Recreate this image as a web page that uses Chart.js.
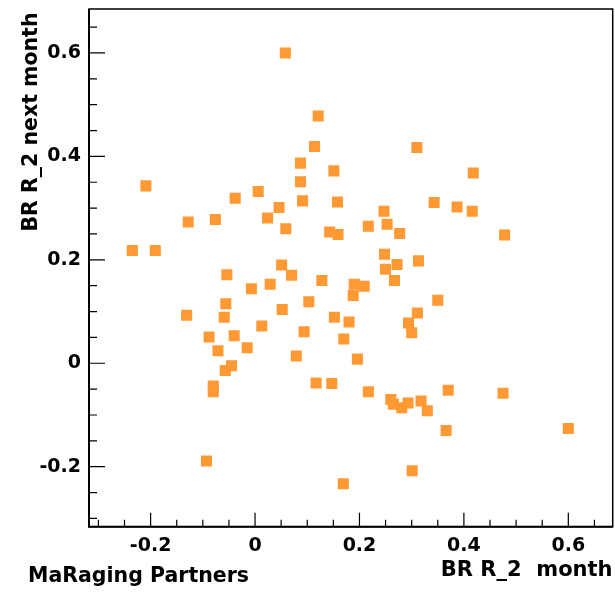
<!DOCTYPE html>
<html>
<head>
<meta charset="utf-8">
<script src="https://cdn.jsdelivr.net/npm/chart.js@4/dist/chart.umd.min.js"></script>
<style>
  html, body { margin: 0; padding: 0; background: #ffffff; }
  #wrap { width: 615px; height: 594px; }
</style>
</head>
<body>
<div id="wrap"><canvas id="c" width="615" height="594"></canvas></div>
<script>
// ---- data ----
const xValues = [
  0.058, 0.121, 0.114, 0.087, 0.151, -0.209, 0.087, -0.038, 0.006, 0.091,
  0.158, 0.046, -0.128, -0.076, 0.024, 0.059, 0.143, 0.159, -0.235, -0.191,
  0.051, 0.310, 0.418, 0.343, 0.387, 0.416, 0.247, 0.217, 0.253, 0.277,
  0.478, 0.248, 0.272, 0.313, 0.250, 0.267, 0.190, 0.209, 0.188, 0.350,
  0.311, 0.294, 0.180, 0.300, 0.170, 0.196, 0.217, 0.370, 0.475, 0.260,
  0.265, 0.281, 0.293, 0.318, 0.330, 0.366, 0.600, 0.301, 0.169, -0.054,
  0.070, -0.007, 0.029, 0.128, -0.056, 0.103, -0.131, -0.059, 0.052, 0.152,
  -0.088, -0.040, 0.013, 0.094, -0.071, -0.015, 0.079, -0.057, -0.045, -0.080,
  -0.080, 0.117, 0.147, -0.093
];
const yValues = [
  0.600, 0.478, 0.419, 0.387, 0.372, 0.343, 0.351, 0.319, 0.332, 0.314,
  0.312, 0.301, 0.273, 0.278, 0.281, 0.260, 0.254, 0.249, 0.218, 0.218,
  0.190, 0.417, 0.368, 0.311, 0.302, 0.294, 0.294, 0.265, 0.269, 0.251,
  0.248, 0.211, 0.191, 0.198, 0.182, 0.160, 0.153, 0.149, 0.131, 0.122,
  0.097, 0.078, 0.080, 0.059, 0.047, 0.008, -0.055, -0.052, -0.058, -0.070,
  -0.079, -0.086, -0.077, -0.073, -0.092, -0.130, -0.126, -0.208, -0.233, 0.171,
  0.170, 0.144, 0.153, 0.160, 0.115, 0.119, 0.093, 0.089, 0.104, 0.089,
  0.051, 0.053, 0.072, 0.061, 0.024, 0.030, 0.014, -0.014, -0.005, -0.044,
  -0.055, -0.038, -0.039, -0.189
];
const xMajorTicks = [-0.2, 0, 0.2, 0.4, 0.6];
const xTickLabels = ['-0.2', '0', '0.2', '0.4', '0.6'];
const yMajorTicks = [-0.2, 0, 0.2, 0.4, 0.6];
const yTickLabels = ['-0.2', '0', '0.2', '0.4', '0.6'];
const xTitle = 'BR R_2  month';
const yTitle = 'BR R_2 next month';
const cornerLabel = 'MaRaging Partners';

const points = xValues.map((x, i) => ({ x: x, y: yValues[i] }));

function labelFor(value, majors, labels) {
  for (let i = 0; i < majors.length; i++) {
    if (Math.abs(value - majors[i]) < 1e-6) return labels[i];
  }
  return '';
}

const FONT = '"DejaVu Sans", "Liberation Sans", Arial, sans-serif';

const framePlugin = {
  id: 'frameTicks',
  beforeDatasetsDraw(chart) {
    const ctx = chart.ctx;
    const a = chart.chartArea;
    const xs = chart.scales.x, ys = chart.scales.y;
    ctx.save();
    ctx.strokeStyle = '#000';
    ctx.lineWidth = 1.2;
    ctx.beginPath();
    xs.ticks.forEach(t => {
      const px = xs.getPixelForValue(t.value);
      const major = labelFor(t.value, xMajorTicks, xTickLabels) !== '';
      const len = major ? 14 : 7;
      ctx.moveTo(px, a.bottom);
      ctx.lineTo(px, a.bottom - len);
    });
    ys.ticks.forEach(t => {
      const py = ys.getPixelForValue(t.value);
      const major = labelFor(t.value, yMajorTicks, yTickLabels) !== '';
      const len = major ? 16 : 8;
      ctx.moveTo(a.left, py);
      ctx.lineTo(a.left + len, py);
    });
    ctx.stroke();
    // frame
    ctx.lineWidth = 1.5;
    ctx.strokeRect(a.left, a.top, a.right - a.left, a.bottom - a.top);
    ctx.lineWidth = 2;
    ctx.beginPath();
    ctx.moveTo(a.left, a.top);
    ctx.lineTo(a.left, a.bottom);
    ctx.lineTo(a.right, a.bottom);
    ctx.stroke();
    ctx.restore();
  },
  afterDraw(chart) {
    const ctx = chart.ctx;
    ctx.save();
    ctx.fillStyle = '#000';
    ctx.textBaseline = 'alphabetic';
    // x title
    ctx.font = 'bold 21px ' + FONT;
    ctx.textAlign = 'right';
    ctx.fillText(xTitle, 612.5, 576);
    // corner label
    ctx.font = 'bold 20.5px ' + FONT;
    ctx.textAlign = 'left';
    ctx.fillText(cornerLabel, 28, 581.7);
    // y title
    ctx.translate(36.5, 12.5);
    ctx.rotate(-Math.PI / 2);
    ctx.textAlign = 'right';
    ctx.font = 'bold 20.5px ' + FONT;
    ctx.fillText(yTitle, 0, 0);
    ctx.restore();
  }
};

function zeroPad(s) {
  s.paddingTop = 0; s.paddingBottom = 0; s.paddingLeft = 0; s.paddingRight = 0;
}

new Chart(document.getElementById('c'), {
  type: 'scatter',
  data: {
    datasets: [{
      data: points,
      pointStyle: 'rect',
      pointRadius: 7.8,
      pointHoverRadius: 7.8,
      borderWidth: 0,
      backgroundColor: '#FF9933',
      borderColor: '#FF9933'
    }]
  },
  options: {
    responsive: false,
    animation: false,
    events: [],
    layout: { autoPadding: false, padding: { left: 0, right: 2.3, top: 9, bottom: 0 } },
    plugins: { legend: { display: false }, tooltip: { enabled: false } },
    scales: {
      x: {
        type: 'linear',
        min: -0.318,
        max: 0.685,
        grid: { display: false, drawTicks: false },
        border: { display: false },
        ticks: {
          stepSize: 0.05,
          includeBounds: false,
          autoSkip: false,
          maxRotation: 0,
          padding: 8,
          color: '#000',
          font: { family: FONT, size: 19, weight: 'bold' },
          callback: (v) => labelFor(v, xMajorTicks, xTickLabels)
        },
        afterFit: (s) => { s.height = 67.3; zeroPad(s); }
      },
      y: {
        type: 'linear',
        min: -0.316,
        max: 0.685,
        grid: { display: false, drawTicks: false },
        border: { display: false },
        ticks: {
          stepSize: 0.05,
          includeBounds: false,
          autoSkip: false,
          padding: 8,
          color: '#000',
          font: { family: FONT, size: 19, weight: 'bold' },
          callback: (v) => labelFor(v, yMajorTicks, yTickLabels)
        },
        afterFit: (s) => { s.width = 89; zeroPad(s); }
      }
    }
  },
  plugins: [framePlugin]
});
</script>
</body>
</html>
